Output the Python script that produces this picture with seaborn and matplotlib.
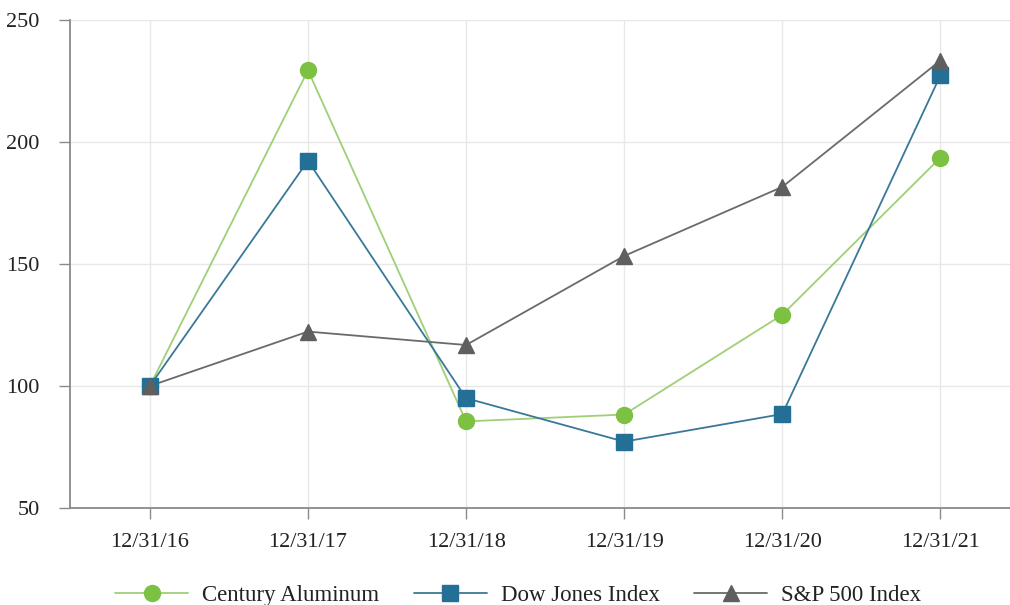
import numpy as np
import pandas as pd
import matplotlib
matplotlib.use("Agg")
import matplotlib.pyplot as plt
import seaborn as sns
from matplotlib.lines import Line2D

dates = ["12/31/16", "12/31/17", "12/31/18", "12/31/19", "12/31/20", "12/31/21"]
century = [100, 229.4, 85.5, 88.3, 129.2, 193.6]
dow = [100, 192.3, 95.0, 77.2, 88.5, 227.3]
sp500 = [100, 122.3, 116.8, 153.3, 181.6, 233.4]
series_names = ["Century Aluminum", "Dow Jones Index", "S&P 500 Index"]
yticks = [50, 100, 150, 200, 250]

marker_colors = ["#7cc142", "#236f96", "#5f5f5f"]
line_colors = ["#9fcf77", "#3a7898", "#6a6a6a"]
markers = ["o", "s", "^"]

sns.set_theme(style="white")
plt.rcParams["font.family"] = ["Liberation Serif", "DejaVu Serif"]

rows = []
for name, vals in zip(series_names, [century, dow, sp500]):
    for i, v in enumerate(vals):
        rows.append({"pos": i, "value": v, "series": name})
df = pd.DataFrame(rows)

fig = plt.figure(figsize=(10.1, 6.05), dpi=100)
ax = fig.add_axes([70 / 1010, 1 - 508 / 605, 940 / 1010, 488 / 605])

ax.grid(True, color="#e8e8e8", linewidth=1.0)
ax.set_axisbelow(True)

for name, mc, lc, mk in zip(series_names, marker_colors, line_colors, markers):
    sub = df[df["series"] == name]
    sns.lineplot(data=sub, x="pos", y="value", ax=ax, color=lc, linewidth=1.3,
                 marker=None, legend=False, zorder=2)
    ax.plot(sub["pos"], sub["value"], linestyle="none", marker=mk,
            markersize=11.5 if mk != "^" else 12, markerfacecolor=mc,
            markeredgecolor=mc, zorder=3)

ax.set_xlim(-0.505, 5.44)
ax.set_ylim(50, 250)
ax.set_xticks(range(len(dates)))
ax.set_xticklabels(dates)
ax.set_yticks(yticks)
ax.set_xlabel("")
ax.set_ylabel("")

for s in ["top", "right"]:
    ax.spines[s].set_visible(False)
for s in ["left", "bottom"]:
    ax.spines[s].set_color("#8a8a8a")
    ax.spines[s].set_linewidth(1.3)

ax.tick_params(axis="both", which="both", length=8, width=1, color="#8a8a8a",
               labelsize=16, labelcolor="#222222", pad=10, left=True, bottom=True)
ax.tick_params(axis="y", pad=14)

handles = [Line2D([0], [0], color=lc, linewidth=1.3, marker=mk, markersize=11.5,
                  markerfacecolor=mc, markeredgecolor=mc)
           for mc, lc, mk in zip(marker_colors, line_colors, markers)]
fig.legend(handles, series_names, loc="lower center", ncol=3, frameon=False,
           bbox_to_anchor=(0.513, -0.036), fontsize=16.5, handlelength=3.2,
           columnspacing=1.5, handletextpad=0.6, labelcolor="#222222")

fig.savefig("out.png", dpi=100)
